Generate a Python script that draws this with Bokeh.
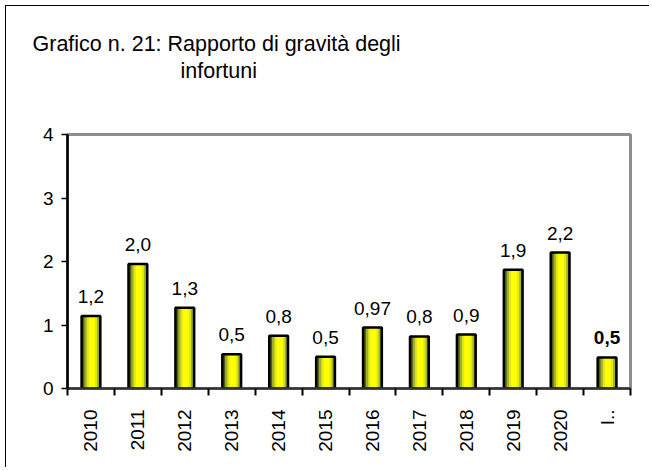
import math
from bokeh.plotting import figure
from bokeh.models import (ColumnDataSource, FixedTicker, Title, CDSView, IndexFilter)
from bokeh.transform import dodge
from bokeh.core.properties import value
from bokeh.embed import file_html
from bokeh.resources import INLINE

# ---- data ----
categories = ["2010", "2011", "2012", "2013", "2014", "2015", "2016",
              "2017", "2018", "2019", "2020", "I.."]
values = [1.14, 1.96, 1.27, 0.54, 0.83, 0.50, 0.96, 0.82, 0.85, 1.87, 2.14, 0.49]
value_labels = ["1,2", "2,0", "1,3", "0,5", "0,8", "0,5", "0,97", "0,8", "0,9",
                "1,9", "2,2", "0,5"]
y_ticks = [0, 1, 2, 3, 4]
title_line1 = "Grafico n. 21: Rapporto di gravità degli"
title_line2 = "infortuni"

n = len(categories)
xs = list(range(n))
src = ColumnDataSource(dict(x=xs, v=values, lab=value_labels))

FONT = "Liberation Sans"

p = figure(width=644, height=462, output_backend="svg", toolbar_location=None,
           x_range=(-0.5, n - 0.5), y_range=(0, 4),
           min_border_left=61, min_border_right=20,
           min_border_top=128, min_border_bottom=80)
p.styles = {"margin-left": "5px", "margin-top": "5px",
            "border-left": "1.5px solid black", "border-top": "1.5px solid black"}
p.background_fill_color = "white"
p.border_fill_color = "white"
p.outline_line_color = "#8f8f8f"
p.outline_line_width = 3
p.xgrid.visible = False
p.ygrid.visible = False

# bars (gradient imitation)
W = 0.40
p.vbar(x="x", top="v", width=W, bottom=0, source=src, fill_color="#4f5b19", line_color=None)
p.vbar(x=dodge("x", 0.015, range=p.x_range), top="v", width=0.31, bottom=0, source=src,
       fill_color="#a3b224", line_color=None)
p.vbar(x=dodge("x", 0.02, range=p.x_range), top="v", width=0.22, bottom=0, source=src,
       fill_color="#dfe81c", line_color=None)
p.vbar(x=dodge("x", 0.02, range=p.x_range), top="v", width=0.13, bottom=0, source=src,
       fill_color="#ffff00", line_color=None)
p.vbar(x="x", top="v", width=W, bottom=0, source=src, fill_color=None,
       line_color="black", line_width=2.5)

# value labels
view_norm = CDSView(filter=IndexFilter(list(range(n - 1))))
view_last = CDSView(filter=IndexFilter([n - 1]))
p.text(x="x", y="v", text="lab", source=src, view=view_norm, y_offset=-13,
       text_align="center", text_baseline="bottom", text_font=value(FONT),
       text_font_size="19px", text_color="black")
p.text(x="x", y="v", text="lab", source=src, view=view_last, y_offset=-13,
       text_align="center", text_baseline="bottom", text_font=value(FONT),
       text_font_size="19px", text_font_style="bold", text_color="black")

# axes
xa = p.xaxis[0]
xa.ticker = FixedTicker(ticks=xs, minor_ticks=[i - 0.5 for i in range(n + 1)])
xa.major_label_overrides = {i: c for i, c in enumerate(categories)}
xa.major_label_orientation = math.pi / 2
xa.major_tick_out = 0
xa.major_tick_in = 0
xa.minor_tick_out = 7
xa.minor_tick_in = 0
xa.minor_tick_line_color = "black"
xa.minor_tick_line_width = 2
xa.axis_line_color = "#333333"
xa.axis_line_width = 2.5
xa.major_label_standoff = 14
xa.major_label_text_font = FONT
xa.major_label_text_font_size = "19px"
xa.major_label_text_color = "black"

ya = p.yaxis[0]
ya.ticker = FixedTicker(ticks=y_ticks, minor_ticks=[])
ya.major_tick_out = 6
ya.major_tick_in = 0
ya.major_tick_line_color = "black"
ya.major_tick_line_width = 1.5
ya.axis_line_color = "black"
ya.axis_line_width = 2.5
ya.major_label_standoff = 8
ya.major_label_text_font = FONT
ya.major_label_text_font_size = "19px"
ya.major_label_text_color = "black"

# title: spacer + two lines as stacked titles
p.add_layout(Title(text=".", align="left", standoff=49, text_font=FONT,
                   text_font_size="2px", text_color="white"), "above")
p.add_layout(Title(text=title_line2, align="left", offset=113, standoff=0,
                   text_font=FONT, text_font_size="21.5px", text_font_style="normal",
                   text_color="black"), "above")
p.add_layout(Title(text=title_line1, align="left", offset=-35, standoff=2,
                   text_font=FONT, text_font_size="21.5px", text_font_style="normal",
                   text_color="black"), "above")

open("out.html", "w").write(file_html(p, INLINE))
